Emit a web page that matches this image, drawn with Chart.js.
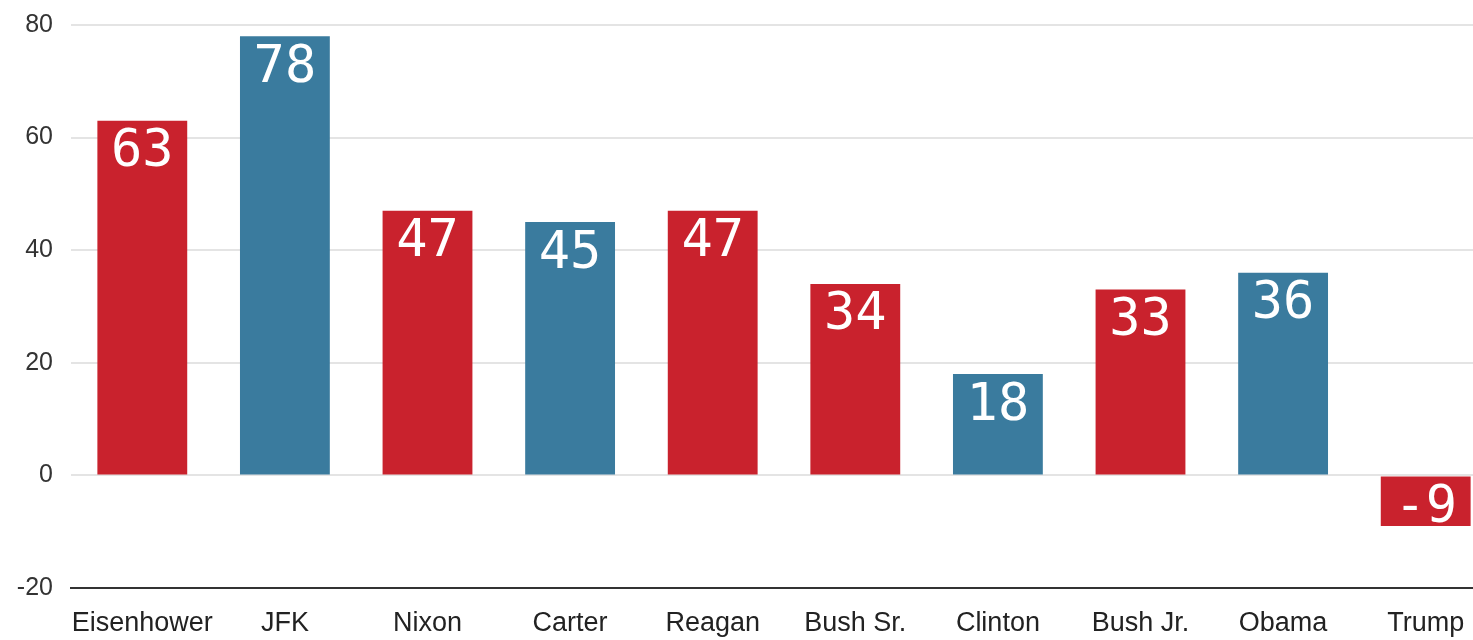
<!DOCTYPE html>
<html>
<head>
<meta charset="utf-8">
<script src="https://cdn.jsdelivr.net/npm/chart.js@4/dist/chart.umd.min.js"></script>
<style>
  html, body { margin: 0; padding: 0; background: #fff; overflow: hidden; }
  #wrap { position: relative; width: 1500px; height: 640px; }
</style>
</head>
<body>
<div id="wrap"><canvas id="chart"></canvas></div>
<script>
// presidents and their net approval
var presidents = ["Eisenhower", "JFK", "Nixon", "Carter", "Reagan", "Bush Sr.", "Clinton", "Bush Jr.", "Obama", "Trump"];
var approval = [63, 78, 47, 45, 47, 34, 18, 33, 36, -9];
var parties = ["R", "D", "R", "D", "R", "R", "D", "R", "D", "R"];
var yTicks = [-20, 0, 20, 40, 60, 80];

var partyColors = { R: "#c9222d", D: "#3a7b9e" };

// white numbers at the top of each bar
var valueLabels = {
  id: "valueLabels",
  afterDatasetsDraw: function (chart) {
    var ctx = chart.ctx;
    var meta = chart.getDatasetMeta(0);
    ctx.save();
    ctx.fillStyle = "#ffffff";
    ctx.font = "52px 'DejaVu Sans Mono'";
    ctx.textAlign = "center";
    ctx.textBaseline = "top";
    meta.data.forEach(function (bar, i) {
      var top = Math.min(bar.y, bar.base);
      ctx.fillText(String(approval[i]), bar.x, top + 6);
    });
    ctx.restore();
  }
};

new Chart(document.getElementById("chart"), {
  type: "bar",
  data: {
    labels: presidents,
    datasets: [{
      data: approval,
      backgroundColor: parties.map(function (p) { return partyColors[p]; }),
      borderWidth: 0,
      categoryPercentage: 1,
      barPercentage: 0.63
    }]
  },
  options: {
    responsive: true,
    maintainAspectRatio: false,
    animation: false,
    layout: { padding: { top: 25, right: 3, bottom: 0, left: 0 } },
    plugins: { legend: { display: false }, tooltip: { enabled: false } },
    scales: {
      x: {
        grid: { display: false, drawTicks: false },
        border: { display: true, color: "#333", width: 2 },
        ticks: {
          color: "#222",
          padding: 19,
          autoSkip: false,
          maxRotation: 0,
          minRotation: 0,
          font: { family: "'Liberation Sans'", size: 27 }
        },
        afterFit: function (scale) { scale.height = 52; }
      },
      y: {
        min: yTicks[0],
        max: yTicks[yTicks.length - 1],
        afterBuildTicks: function (scale) {
          scale.ticks = yTicks.map(function (v) { return { value: v }; });
        },
        grid: {
          drawTicks: false,
          lineWidth: 2,
          color: function (c) { return c.tick && c.tick.value === -20 ? "#333" : "#e4e4e4"; }
        },
        border: { display: false },
        ticks: {
          color: "#333",
          padding: 18,
          font: { family: "'Liberation Sans'", size: 25 }
        },
        afterFit: function (scale) {
          scale.width = 71;
          scale.paddingTop = 0;
          scale.paddingBottom = 0;
        }
      }
    }
  },
  plugins: [valueLabels]
});
</script>
</body>
</html>
